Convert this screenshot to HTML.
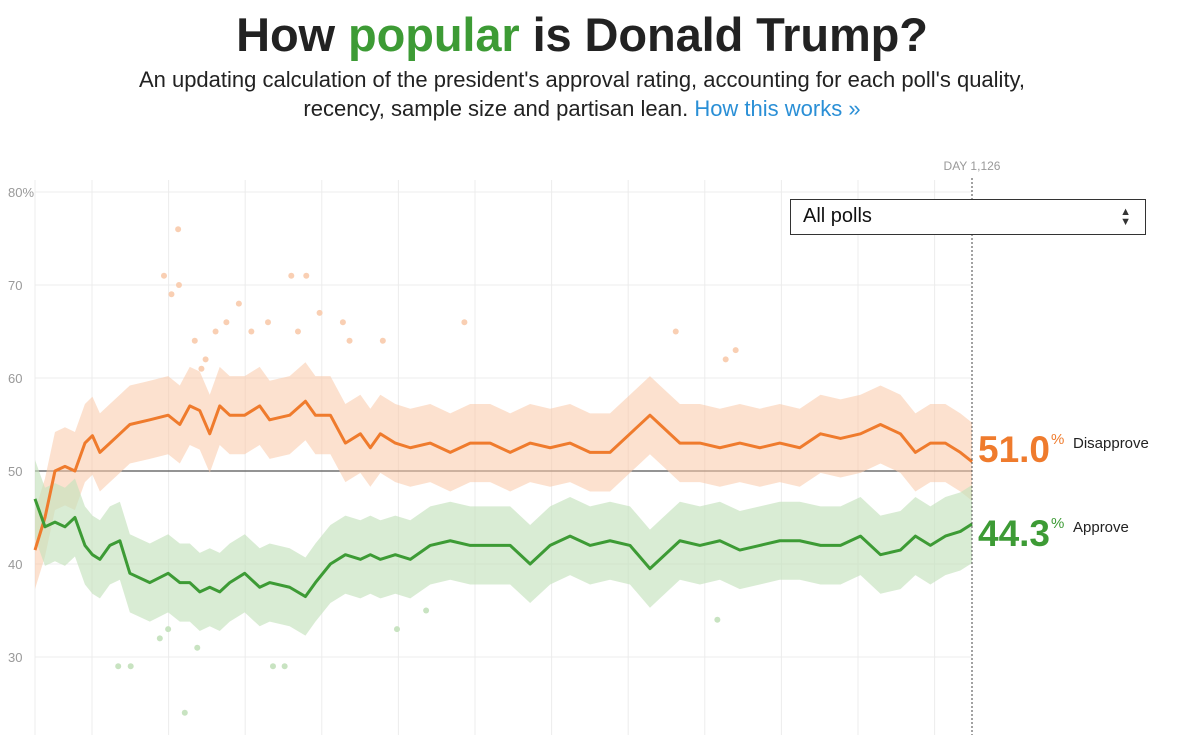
<!DOCTYPE html>
<html><head><meta charset="utf-8">
<style>
body{margin:0;width:1200px;height:735px;overflow:hidden;background:#fff;font-family:"Liberation Sans",sans-serif;}
.t{position:absolute;left:-18px;width:1200px;text-align:center}
</style></head><body>
<div class="t" style="top:7px;font-size:47px;font-weight:bold;color:#222;letter-spacing:-0.1px">How <span style="color:#3d9b35">popular</span> is Donald Trump?</div>
<div class="t" style="top:65px;font-size:22px;line-height:29px;color:#222">An updating calculation of the president's approval rating, accounting for each poll's quality,<br>recency, sample size and partisan lean. <span style="color:#2a8fd6">How this works »</span></div>
<svg id="c" width="1200" height="735" style="position:absolute;left:0;top:0"></svg>
<div style="position:absolute;left:790px;top:199px;width:356px;height:36px;border:1.5px solid #333;background:#fff;box-sizing:border-box;font-size:20px;line-height:33px;padding-left:12px;color:#111">All polls<span style="position:absolute;right:14px;top:0;font-size:11px;line-height:10px;padding-top:7px;color:#333">▲<br>▼</span></div>
<script>
const days=[0,12,24,36,48,60,69,78,90,102,114,138,160,174,186,198,210,222,234,252,270,282,306,325,337,355,373,391,403,415,433,451,475,499,523,547,571,595,619,643,667,691,715,739,751,775,799,823,847,871,895,919,944,968,992,1016,1040,1058,1076,1094,1112,1126];
const disapprove=[41.5,45,50,50.5,50,53,53.8,52,53,54,55,55.5,56,55,57,56.5,54,57,56,56,57,55.5,56,57.5,56,56,53,54,52.5,54,53,52.5,53,52,53,53,52,53,52.5,53,52,52,54,56,55,53,53,52.5,53,52.5,53,52.5,54,53.5,54,55,54,52,53,53,52,51];
const approve=[47,44,44.5,44,45,42,41,40.5,42,42.5,39,38,39,38,38,37,37.5,37,38,39,37.5,38,37.5,36.5,38,40,41,40.5,41,40.5,41,40.5,42,42.5,42,42,42,40,42,43,42,42.5,42,39.5,40.5,42.5,42,42.5,41.5,42,42.5,42.5,42,42,43,41,41.5,43,42,43,43.5,44.3];
const yTicks=[80,70,60,50,40,30];
const outlierDaysD=[200,217,230,260,245,155,173,172,164,205,192,308,326,316,342,370,280,378,418,516,830,842,770];
const outlierValsD=[61,65,66,65,68,71,70,76,69,62,64,71,71,65,67,66,66,64,64,66,62,63,65];
const outlierDaysA=[100,115,180,195,160,150,286,300,435,470,820];
const outlierValsA=[29,29,24,31,33,32,29,29,33,35,34];
const x=d=>35+d*(937/1126), y=v=>471-(v-50)*9.3;
const s=document.getElementById('c'),NS='http://www.w3.org/2000/svg';
function el(t,a){const e=document.createElementNS(NS,t);for(const k in a)e.setAttribute(k,a[k]);s.appendChild(e);return e;}
for(let i=0;i<12;i++){const g=el('line',{x1:92+i*76.6,x2:92+i*76.6,y1:180,y2:735,stroke:'#ececec'});

}
el('line',{x1:35,x2:35,y1:180,y2:735,stroke:'#ececec'});
yTicks.forEach(v=>{const l=el('line',{x1:35,x2:972,y1:y(v),y2:y(v),stroke:v==50?'#555':'#ececec','stroke-width':v==50?1.2:1});


const t=el('text',{x:8,y:y(v)+5,'font-size':13,fill:'#999','font-family':'Liberation Sans'});t.textContent=v+(v==80?'%':'');

});
function band(vals,col,op,nm){let p='';days.forEach((d,i)=>p+=(i?'L':'M')+x(d)+','+y(vals[i]+4.2));for(let i=days.length-1;i>=0;i--)p+='L'+x(days[i])+','+y(vals[i]-4.2);const b=el('path',{d:p+'Z',fill:col,opacity:op});

}
band(disapprove,'#f9c9a8',0.55,'disapprove-poll-band');
band(approve,'#c4e2bd',0.65,'approve-poll-band');
outlierDaysD.forEach((d,i)=>{const c=el('circle',{cx:x(d),cy:y(outlierValsD[i]),r:3,fill:'#f9cfb3'});

});
outlierDaysA.forEach((d,i)=>{const c=el('circle',{cx:x(d),cy:y(outlierValsA[i]),r:3,fill:'#c8e3c1'});

});
function line(vals,col,nm){const p=days.map((d,i)=>(i?'L':'M')+x(d)+','+y(vals[i])).join('');const l=el('path',{d:p,fill:'none',stroke:col,'stroke-width':3,'stroke-linejoin':'round'});

}
line(disapprove,'#ef7b2d','disapprove-line');
line(approve,'#3d9b35','approve-line');
const dl=el('line',{x1:972,x2:972,y1:178,y2:735,stroke:'#444','stroke-dasharray':'2,2'});


const dt=el('text',{x:972,y:170,'font-size':12,fill:'#999','text-anchor':'middle'});dt.textContent='DAY 1,126';


function lab(v,base,col,word,nm){const t=el('text',{x:978,y:base,'font-size':37,'font-weight':'bold',fill:col});t.textContent=v.toFixed(1);


const p=el('text',{x:1051,y:base-18,'font-size':15,fill:col});p.textContent='%';


const w=el('text',{x:1073,y:base-14,'font-size':15,fill:'#222'});w.textContent=word;

}
lab(disapprove[disapprove.length-1],462,'#ef7b2d','Disapprove','disapprove');
lab(approve[approve.length-1],546,'#3d9b35','Approve','approve');
</script>
</body></html>
